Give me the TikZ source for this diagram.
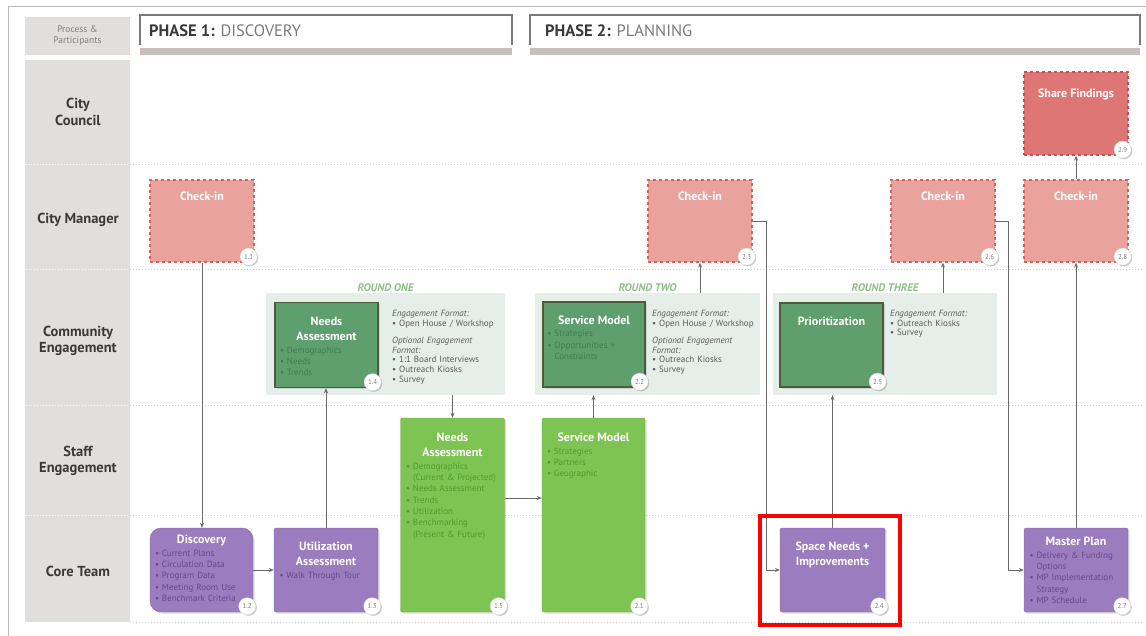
\documentclass[tikz,border=0pt]{standalone}
\usepackage{fontspec}
\setmainfont{PT Sans}
\usetikzlibrary{positioning,arrows.meta,shadows}
\setlength\parindent{0pt}

\definecolor{ckfill}{HTML}{E9A29C}
\definecolor{ckline}{HTML}{D6625D}
\definecolor{sffill}{HTML}{DD7675}
\definecolor{sfline}{HTML}{C75252}
\definecolor{purpfill}{HTML}{9B7CBF}
\definecolor{purpline}{HTML}{8466AA}
\definecolor{purpbul}{HTML}{634A8C}
\definecolor{dgfill}{HTML}{5F9E6D}
\definecolor{dgline}{HTML}{4D5A3C}
\definecolor{dgbul}{HTML}{3F7D4D}
\definecolor{lgfill}{HTML}{7EC452}
\definecolor{lgline}{HTML}{68AE3F}
\definecolor{lgbul}{HTML}{4F9A30}
\definecolor{panelfill}{HTML}{E6EEEA}
\definecolor{colfill}{HTML}{E1DFDD}
\definecolor{barfill}{HTML}{C8BFBA}
\definecolor{lblgray}{HTML}{3A3A3A}
\definecolor{phgray}{HTML}{7A7A7A}
\definecolor{enggray}{HTML}{5A5A5A}
\definecolor{roundgreen}{HTML}{8DBF86}
\definecolor{arrgray}{HTML}{6A6A6A}

% bullets inside the boxes
\newcommand\itm[1]{\par\noindent\makebox[7pt][l]{\textbullet}#1}
\newcommand\cont[1]{\par\noindent\hspace*{7pt}#1}
\newcommand\boxhead[1]{{\centering\color{white}\fontsize{12}{15}\selectfont\bfseries #1\par}\vspace{1.5pt}}
\newcommand\stepno[2]{\node[numdot] (#1-n) at ([xshift=-6pt,yshift=6pt]#1.south east) {#2};}

\tikzset{
  rowlbl/.style={align=center, font=\fontsize{14.5}{16.5}\selectfont\bfseries, text=lblgray},
  rowline/.style={draw=gray!40, line width=1pt, dash pattern=on 1pt off 2pt},
  sepwhite/.style={draw=white, line width=1pt, dash pattern=on 1pt off 2pt},
  phase/.style={anchor=west, inner sep=0pt, font=\fontsize{16.5}{19}\selectfont, text=lblgray},
  shade/.style={drop shadow={opacity=0.25, shadow xshift=1.5pt, shadow yshift=-1.5pt}},
  checkin/.style={draw=ckline, fill=ckfill, dashed, line width=1.3pt, inner sep=0pt,
    minimum width=104pt, minimum height=82pt},
  corebox/.style={draw=purpline, fill=purpfill, rounded corners=1.5pt, inner sep=0pt,
    minimum width=104pt, minimum height=84pt, shade},
  commbox/.style={draw=dgline, fill=dgfill, line width=1.3pt, inner sep=0pt,
    minimum width=103pt, minimum height=85pt, shade},
  staffbox/.style={draw=lgline, fill=lgfill, rounded corners=1.5pt, inner sep=0pt,
    minimum width=104pt, minimum height=194pt, shade},
  panel/.style={fill=panelfill, inner sep=0pt, minimum height=102pt},
  headtext/.style={anchor=north, inner sep=0pt, text=white, align=center,
    font=\fontsize{12}{15}\selectfont\bfseries},
  boxtext/.style={anchor=north, text width=93pt, align=left, inner sep=0pt,
    font=\fontsize{9}{11.3}\selectfont},
  engtext/.style={anchor=north west, text width=112pt, align=left, inner sep=0pt,
    text=enggray, font=\fontsize{9}{9.6}\selectfont},
  roundlbl/.style={inner sep=1pt, text=roundgreen, font=\fontsize{11}{12}\selectfont\bfseries\itshape},
  numdot/.style={circle, fill=white, draw=gray!25, line width=0.4pt, minimum size=17pt,
    inner sep=0pt, text=gray, font=\fontsize{7}{8}\selectfont,
    drop shadow={opacity=0.4, shadow xshift=1.2pt, shadow yshift=-1.2pt}},
  arr/.style={draw=arrgray, line width=0.8pt, -{Stealth[length=5pt,width=4pt]}},
  hilite/.style={draw=red, line width=3.5pt}
}

\begin{document}
\begin{tikzpicture}[x=1pt, y=-1pt]
\useasboundingbox (0,0) rectangle (1146,636);
\draw[gray!55, line width=1pt] (8,640) -- (8,7) -- (1150,7);

% participants column
\fill[colfill] (25,17) rectangle (130,55);
\node[font=\fontsize{9.5}{11}\selectfont, text=gray, align=center] (procpart) at (77.5,36) {Process \&\\Participants};
\fill[colfill] (25,60) rectangle (130,622);
\foreach \y in {165,270,405,515} \draw[sepwhite] (25,\y) -- (130,\y);
\foreach \y in {165,270,405,515,622} \draw[rowline] (130,\y) -- (1142,\y);
\foreach \y/\lbl [count=\i] in {112/{City\\Council},220/{City Manager},341/{Community\\Engagement},461/{Staff\\Engagement},571/{Core Team}}
  \node[rowlbl] (row\i) at (78,\y) {\lbl};

% phase headers
\draw[phgray, line width=1.2pt] (140,45) |- (512,15) -- (512,45);
\fill[barfill] (140,48) rectangle (512,55);
\node[phase] (ph1) at (149,31) {\textbf{PHASE 1:} \textcolor{phgray}{DISCOVERY}};
\draw[phgray, line width=1.2pt] (530,45) |- (1140,15) -- (1140,45);
\fill[barfill] (530,48) rectangle (1140,55);
\node[phase] (ph2) at (545,31) {\textbf{PHASE 2:} \textcolor{phgray}{PLANNING}};

% engagement rounds
\node[panel, minimum width=239pt] (p1) at (385.5,344) {};
\node[panel, minimum width=225pt] (p2) at (647.5,344) {};
\node[panel, minimum width=224pt] (p3) at (885,344) {};
\node[roundlbl, above=0pt of p1] (r1) {ROUND ONE};
\node[roundlbl, above=0pt of p2] (r2) {ROUND TWO};
\node[roundlbl, above=0pt of p3] (r3) {ROUND THREE};

% city manager / council
\node[checkin] (ci11) at (202,221) {};
\node[checkin] (ci23) at (700,221) {};
\node[checkin] (ci26) at (943,221) {};
\node[checkin] (ci28) at (1076,221) {};
\node[checkin, draw=sfline, fill=sffill, minimum height=83pt] (sf29) at (1076,113.5) {};
\foreach \b in {ci11,ci23,ci26,ci28}
  \node[headtext] (\b-t) at ([yshift=-12pt]\b.north) {Check-in};
\node[headtext] (sf29-t) at ([yshift=-17pt]sf29.north) {Share Findings};

% community engagement
\node[commbox] (na14) at (326.5,345) {};
\node[boxtext, text=dgbul] (na14-t) at ([yshift=-15pt]na14.north)
  {\boxhead{Needs\\Assessment}\itm{Demographics}\itm{Needs}\itm{Trends}};
\node[engtext] (p1-t) at (392,310) {\textit{Engagement Format:}\itm{Open House / Workshop}\par\vspace{8pt}
  \textit{Optional Engagement}\par\textit{Format:}\itm{1:1 Board Interviews}\itm{Outreach Kiosks}\itm{Survey}};
\node[commbox, minimum width=102pt] (sm22) at (594,344.5) {};
\node[boxtext, text=dgbul] (sm22-t) at ([yshift=-14pt]sm22.north)
  {\boxhead{Service Model}\itm{Strategies}\itm{Opportunities +}\cont{Constraints}};
\node[engtext] (p2-t) at (652,310) {\textit{Engagement Format:}\itm{Open House / Workshop}\par\vspace{8pt}
  \textit{Optional Engagement}\par\textit{Format:}\itm{Outreach Kiosks}\itm{Survey}};
\node[commbox, minimum height=84pt] (pr25) at (831.5,345) {};
\node[headtext] (pr25-t) at ([yshift=-14pt]pr25.north) {Prioritization};
\node[engtext] (p3-t) at (890,310) {\textit{Engagement Format:}\itm{Outreach Kiosks}\itm{Survey}};

% staff engagement
\node[staffbox] (na15) at (452.5,515) {};
\node[boxtext, text=lgbul] (na15-t) at ([yshift=-15pt]na15.north)
  {\boxhead{Needs\\Assessment}\itm{Demographics}\cont{(Current \& Projected)}\itm{Needs Assessment}
   \itm{Trends}\itm{Utilization}\itm{Benchmarking}\cont{(Present \& Future)}};
\node[staffbox, minimum width=103pt] (sm21) at (593.5,515) {};
\node[boxtext, text=lgbul] (sm21-t) at ([yshift=-15pt]sm21.north)
  {\boxhead{Service Model}\itm{Strategies}\itm{Partners}\itm{Geographic}};

% core team
\node[corebox, rounded corners=11pt, minimum width=103pt] (d12) at (201.5,570) {};
\node[boxtext, text=purpbul] (d12-t) at ([yshift=-7pt]d12.north)
  {\boxhead{Discovery}\itm{Current Plans}\itm{Circulation Data}\itm{Program Data}
   \itm{Meeting Room Use}\itm{Benchmark Criteria}};
\node[corebox] (u13) at (326,570) {};
\node[boxtext, text=purpbul] (u13-t) at ([yshift=-14pt]u13.north)
  {\boxhead{Utilization\\Assessment}\itm{Walk Through Tour}};
\node[corebox, minimum width=105pt] (sp24) at (832.5,570) {};
\node[headtext] (sp24-t) at ([yshift=-14pt]sp24.north) {Space Needs +\\Improvements};
\node[corebox] (mp27) at (1076,570) {};
\node[boxtext, text=purpbul] (mp27-t) at ([yshift=-9pt]mp27.north)
  {\boxhead{Master Plan}\itm{Delivery \& Funding}\cont{Options}\itm{MP Implementation}
   \cont{Strategy}\itm{MP Schedule}};

% step numbers
\stepno{ci11}{1.1}
\stepno{d12}{1.2}
\stepno{u13}{1.3}
\stepno{na14}{1.4}
\stepno{na15}{1.5}
\stepno{sm21}{2.1}
\stepno{sm22}{2.2}
\stepno{ci23}{2.3}
\stepno{sp24}{2.4}
\stepno{pr25}{2.5}
\stepno{ci26}{2.6}
\stepno{mp27}{2.7}
\stepno{ci28}{2.8}
\stepno{sf29}{2.9}

% connectors
\draw[arr] (ci11.south) -- (ci11.south |- d12.north);
\draw[arr] (d12) -- (u13);
\draw[arr] (u13.north) -- (u13.north |- na14.south);
\draw[arr] (p1.south -| na15.north) -- (na15.north);
\draw[arr] ([yshift=17pt]na15.east) -- ([yshift=17pt]na15.east -| sm21.west);
\draw[arr] (sm21.north) -- (sm21.north |- p2.south);
\draw[arr] (p2.north -| ci23.south) -- (ci23.south);
\draw[arr] (ci23.east) -- ++(14,0) |- (sp24.west);
\draw[arr] (sp24.north) -- (sp24.north |- p3.south);
\draw[arr] (p3.north -| ci26.south) -- (ci26.south);
\draw[arr] (ci26.east) -- ++(13,0) |- (mp27.west);
\draw[arr] (mp27) -- (ci28);
\draw[arr] (ci28) -- (sf29);

% highlight
\draw[hilite] (760,516) rectangle (900,625);
\end{tikzpicture}
\end{document}
